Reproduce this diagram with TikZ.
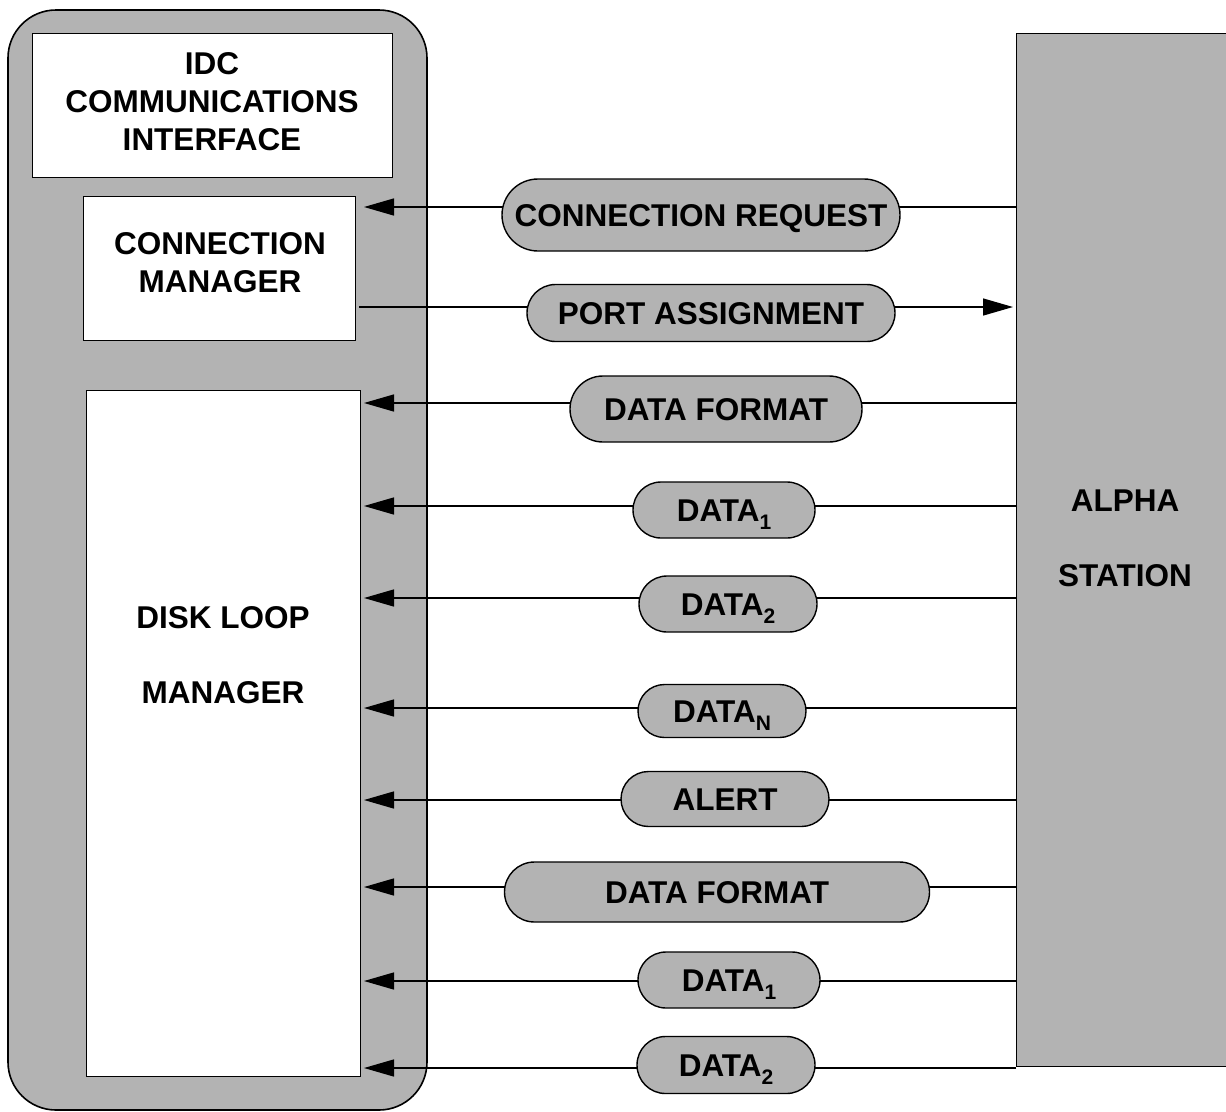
\documentclass[tikz,border=0pt]{standalone}
\usepackage{fontspec}
\setmainfont{Liberation Sans}
\usetikzlibrary{arrows.meta,shapes.misc}
\definecolor{boxgray}{HTML}{B3B3B3}
\newcommand{\mysub}[1]{\raisebox{-8pt}{\fontsize{21}{21}\selectfont #1}}
\begin{document}
\begin{tikzpicture}[x=1pt,y=-1pt,
  font=\fontsize{31.5}{38}\selectfont\bfseries,
  conn/.style={line width=1.4pt,-{Triangle[length=30pt,width=17pt]}},
  pill/.style={rounded rectangle, draw, line width=1.4pt, fill=boxgray,
    text height=22.5pt, text depth=0pt, inner sep=0pt},
  whitebox/.style={draw, line width=1.4pt, fill=white, inner sep=0pt, anchor=north west},
  lbl/.style={align=center, inner sep=0pt}]
\useasboundingbox (0,0) rectangle (1226,1111);
% outer container
\draw[line width=1.6pt, fill=boxgray, rounded corners=48pt] (8,10) rectangle (427,1110);
% inner boxes
\node[whitebox, minimum width=360pt, minimum height=144pt] (idc) at (32,33) {};
\node[lbl] (idctext) at (212,102) {IDC\\COMMUNICATIONS\\INTERFACE};
\node[whitebox, minimum width=272pt, minimum height=144pt] (cm) at (83,196) {};
\node[lbl] (cmtext) at (220,263) {CONNECTION\\MANAGER};
\node[whitebox, minimum width=274pt, minimum height=686pt] (dlm) at (86,390) {};
\node[lbl] (dlmtext) at (223,655) {DISK LOOP\\[37pt]MANAGER};
% alpha station
\node[draw, line width=1.4pt, fill=boxgray, anchor=north west, inner sep=0pt,
  minimum width=220pt, minimum height=1033pt] (alpha) at (1016,33) {};
\node[lbl] (alphatext) at (1125,538) {ALPHA\\[37pt]STATION};
% connector end points
\coordinate (t1) at (364,207);
\coordinate (t2) at (359,307);
\coordinate (t3) at (364,403);
\coordinate (t4) at (364,506);
\coordinate (t5) at (364,598);
\coordinate (t6) at (364,708);
\coordinate (t7) at (364,800);
\coordinate (t8) at (364,887);
\coordinate (t9) at (364,981);
\coordinate (t10) at (364,1068);
% connectors
\draw[conn] (alpha.west |- t1) -- (t1);
\draw[conn, shorten >=3pt] (t2) -- (alpha.west |- t2);
\draw[conn] (alpha.west |- t3) -- (t3);
\draw[conn] (alpha.west |- t4) -- (t4);
\draw[conn] (alpha.west |- t5) -- (t5);
\draw[conn] (alpha.west |- t6) -- (t6);
\draw[conn] (alpha.west |- t7) -- (t7);
\draw[conn] (alpha.west |- t8) -- (t8);
\draw[conn] (alpha.west |- t9) -- (t9);
\draw[conn] (alpha.west |- t10) -- (t10);
% message pills
\node[pill, minimum width=398pt, minimum height=72pt] (p1) at (701,215) {CONNECTION REQUEST};
\node[pill, minimum width=368pt, minimum height=57pt] (p2) at (711,313) {PORT ASSIGNMENT};
\node[pill, minimum width=292pt, minimum height=66pt] (p3) at (716,409) {DATA FORMAT};
\node[pill, minimum width=182pt, minimum height=56pt] (p4) at (724,510) {DATA\mysub{1}};
\node[pill, minimum width=178pt, minimum height=56pt] (p5) at (728,604) {DATA\mysub{2}};
\node[pill, minimum width=168pt, minimum height=53pt] (p6) at (722,711) {DATA\mysub{N}};
\node[pill, minimum width=208pt, minimum height=55pt] (p7) at (725,799) {ALERT};
\node[pill, minimum width=425pt, minimum height=60pt] (p8) at (717,892) {DATA FORMAT};
\node[pill, minimum width=182pt, minimum height=56pt] (p9) at (729,980) {DATA\mysub{1}};
\node[pill, minimum width=178pt, minimum height=57pt] (p10) at (726,1065) {DATA\mysub{2}};
\end{tikzpicture}
\end{document}
